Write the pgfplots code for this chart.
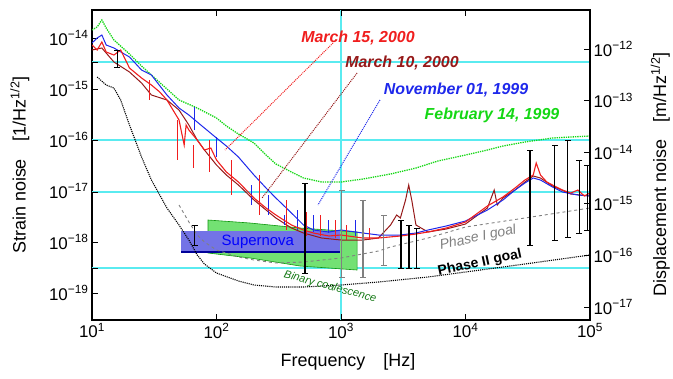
\documentclass[border=0pt]{standalone}
\usepackage{pgfplots}
\pgfplotsset{compat=1.18}
\usepackage{fontspec}
\setmainfont{Liberation Sans}
\definecolor{cRed}{RGB}{240,30,30}
\definecolor{cDark}{RGB}{150,25,25}
\definecolor{cBlue}{RGB}{30,40,235}
\definecolor{cGreen}{RGB}{20,215,20}
\definecolor{cCyan}{RGB}{90,235,240}
\definecolor{cSN}{RGB}{115,115,230}
\definecolor{cBin}{RGB}{115,225,115}
\definecolor{cDGreen}{RGB}{20,120,20}
\begin{document}
\begin{tikzpicture}
\path[use as bounding box] (0,0) rectangle (673bp,379bp);
\begin{axis}[
  at={(92bp,59bp)}, anchor=south west,
  scale only axis, width=498bp, height=310bp,
  xmode=log, ymode=log,
  xmin=10, xmax=1e5, ymin=2.955e-20, ymax=3.54e-14,
  xtick={10,100,1000,10000,100000},
  xticklabels={10\textsuperscript{1},10\textsuperscript{2},10\textsuperscript{3},10\textsuperscript{4},10\textsuperscript{5}},
  ytick={1e-19,1e-18,1e-17,1e-16,1e-15,1e-14},
  yticklabels={10\textsuperscript{−19},10\textsuperscript{−18},10\textsuperscript{−17},10\textsuperscript{−16},10\textsuperscript{−15},10\textsuperscript{−14}},
  ytick pos=left,
  xminorticks=false, yminorticks=false,
  tick align=inside,
  major tick length=6bp,
  axis line style={line width=1.2bp},
  every tick/.style={black, line width=1bp},
  tick label style={font=\fontsize{17}{19}\selectfont},
  xlabel={Frequency\quad[Hz]},
  ylabel={Strain noise\quad[1/Hz\textsuperscript{1/2}]},
  every axis x label/.style={at={(axis description cs:0.514,-0.135)}, anchor=center, font=\fontsize{18}{20}\selectfont},
  every axis y label/.style={at={(axis description cs:-0.145,0.5)}, rotate=90, anchor=center, font=\fontsize{18}{20}\selectfont},
  extra x ticks={1000}, extra x tick labels={},
  extra x tick style={grid=major, major grid style={cCyan, line width=1.2bp}},
  extra y ticks={3.384e-15,1e-16,9.56e-18,3.09e-19}, extra y tick labels={},
  extra y tick style={grid=major, major grid style={cCyan, line width=1.2bp}},
]
% binary coalescence region
\addplot[fill=cBin, draw=cGreen!70!black, line width=0.6bp] coordinates {(85.5,2.7e-18) (186,2.358e-18) (469,1.882e-18) (1346,1.571e-18) (1346,2.825e-19) (469,3.384e-19) (186,4.857e-19) (85.5,6.087e-19)} -- cycle;
% supernova box
\addplot[fill=cSN, draw=none] coordinates {(51.9,1.643e-18) (982,1.643e-18) (982,6.087e-19) (51.9,6.087e-19)} -- cycle;
\addplot[draw=blue!60!black, line width=1.5bp] coordinates {(51.9,6.3e-19) (982,6.3e-19)};
% Phase I goal (gray dashed)
\addplot[gray, dashed, line width=0.9bp] coordinates {(50,5.316e-18) (60,2.467e-18) (70,1.372e-18) (80,1e-18) (100,6.97e-19) (150,5.081e-19) (200,4.438e-19) (300,3.875e-19) (500,4.054e-19) (1000,4.857e-19) (2000,6.663e-19) (2500,7.982e-19) (5000,1.198e-18) (10000,1.968e-18) (30000,2.955e-18) (100000,4.642e-18)};
% Phase II goal (black dotted)
\addplot[black, densely dotted, line width=1.1bp] coordinates {(11,1.719e-15) (13,1.198e-15) (15,1.046e-15) (17,6.087e-16) (20,1.968e-16) (23,7.982e-17) (25,4.642e-17) (30,1.643e-17) (35,8.351e-18) (40,4.642e-18) (50,2.154e-18) (60,1.094e-18) (70,5.562e-19) (80,3.704e-19) (100,2.467e-19) (150,1.719e-19) (200,1.435e-19) (300,1.311e-19) (500,1.311e-19) (1000,1.435e-19) (2000,1.643e-19) (5000,2.06e-19) (10000,2.581e-19) (30000,3.704e-19) (100000,5.562e-19)};
% February 14, 1999
\addplot[cGreen, densely dotted, line width=1.3bp] coordinates {(10,1.435e-14) (11,1.643e-14) (12,2.254e-14) (13,1.571e-14) (15,9.14e-15) (20,4.857e-15) (25,2.825e-15) (30,1.882e-15) (40,1e-15) (50,6.087e-16) (70,4.242e-16) (100,2.7e-16) (120,1.882e-16) (150,1.311e-16) (200,8.737e-17) (250,5.081e-17) (300,3.384e-17) (400,2.358e-17) (500,1.798e-17) (700,1.501e-17) (1000,1.501e-17) (1500,1.719e-17) (2500,2.154e-17) (4000,2.825e-17) (6000,3.875e-17) (10000,5.081e-17) (15000,6.369e-17) (20000,7.629e-17) (30000,9.14e-17) (50000,1.094e-16) (70000,1.145e-16) (100000,1.198e-16)};
% March 10, 2000
\addplot[cDark, line width=1bp] coordinates {(10,5.818e-15) (12,6.369e-15) (15,3.384e-15) (20,2.154e-15) (25,1.311e-15) (30,7.629e-16) (40,6.087e-16) (50,3.875e-16) (60,1.968e-16) (70,1e-16) (80,6.369e-17) (100,3.235e-17) (120,2.06e-17) (150,1.311e-17) (200,6.663e-18) (250,4.242e-18) (300,2.955e-18) (400,1.882e-18) (500,1.501e-18) (700,1.198e-18) (1000,1.094e-18) (1500,1.094e-18) (2000,1.198e-18) (2500,2.154e-18) (2800,3.384e-18) (3000,2.955e-18) (3300,6.663e-18) (3500,1.311e-17) (3700,6.663e-18) (4000,2.154e-18) (5000,1.571e-18) (7000,1.798e-18) (10000,2.254e-18) (15000,4.642e-18) (17000,1.046e-17) (18000,5.316e-18) (20000,7.293e-18) (25000,1.046e-17) (30000,1.501e-17) (35000,1.968e-17) (40000,1.798e-17) (50000,1.253e-17) (70000,8.737e-18) (100000,7.982e-18)};
% November 01, 1999
\addplot[cBlue, line width=1bp] coordinates {(10,7.982e-15) (11,1e-14) (12,1.145e-14) (13,7.293e-15) (15,6.369e-15) (20,4.242e-15) (25,2.358e-15) (30,1.882e-15) (40,7.629e-16) (50,4.242e-16) (60,3.092e-16) (70,2.254e-16) (80,1.719e-16) (100,1.094e-16) (120,7.629e-17) (150,4.642e-17) (200,2.06e-17) (250,1.145e-17) (300,7.293e-18) (400,3.704e-18) (500,2.154e-18) (600,1.719e-18) (800,1.571e-18) (1000,1.719e-18) (1500,1.501e-18) (2000,1.372e-18) (3000,1.372e-18) (4000,1.501e-18) (5000,1.719e-18) (7000,2.06e-18) (10000,2.581e-18) (15000,4.242e-18) (20000,6.663e-18) (25000,1.046e-17) (30000,1.435e-17) (35000,1.798e-17) (40000,1.643e-17) (50000,1.198e-17) (60000,9.562e-18) (80000,8.351e-18) (100000,7.982e-18)};
\addplot[cBlue, line width=1bp, unbounded coords=jump] coordinates {(67,4.438e-16) (67,1.571e-16) (67,nan) (100,1.145e-16) (100,4.642e-17) (100,nan) (190,1.311e-17) (190,5.316e-18) (190,nan) (260,8.351e-18) (260,3.384e-18) (260,nan) (350,3.384e-18) (350,2.154e-18) (350,nan) (450,4.242e-18) (450,1.719e-18) (450,nan) (600,3.384e-18) (600,1.571e-18) (600,nan) (800,2.7e-18) (800,1.501e-18) (800,nan) (1300,2.7e-18) (1300,1.311e-18)};
% March 15, 2000
\addplot[cRed, line width=1.1bp] coordinates {(10,7.293e-15) (11,5.818e-15) (12,8.351e-15) (13,5.316e-15) (15,4.642e-15) (17,5.818e-15) (20,2.581e-15) (25,1.643e-15) (30,1.198e-15) (35,8.737e-16) (40,6.087e-16) (50,2.467e-16) (55,7.982e-17) (57,1.968e-16) (60,1.571e-16) (70,1e-16) (80,6.369e-17) (90,6.97e-17) (100,4.054e-17) (120,2.358e-17) (150,1.501e-17) (200,7.293e-18) (250,4.642e-18) (300,3.384e-18) (400,2.154e-18) (500,1.719e-18) (600,1.501e-18) (800,1.311e-18) (1000,1.372e-18) (1500,1.198e-18) (2000,1.198e-18) (3000,1.311e-18) (4000,1.435e-18) (5000,1.571e-18) (7000,1.882e-18) (10000,2.467e-18) (15000,5.081e-18) (20000,7.629e-18) (25000,1.145e-17) (30000,1.643e-17) (35000,2.06e-17) (37000,3.54e-17) (40000,2.06e-17) (45000,1.501e-17) (50000,1.311e-17) (60000,1.046e-17) (70000,9.14e-18) (80000,1.046e-17) (90000,7.982e-18) (100000,9.14e-18)};
\addplot[cRed, line width=1bp, unbounded coords=jump] coordinates {(29,1.501e-15) (29,6.087e-16) (29,nan) (49,2.467e-16) (49,4.054e-17) (49,nan) (65,7.982e-17) (65,2.825e-17) (65,nan) (88,1e-16) (88,2.358e-17) (88,nan) (133,4.054e-17) (133,8.351e-18) (133,nan) (223,2.06e-17) (223,3.384e-18) (223,nan) (367,6.663e-18) (367,1.719e-18) (367,nan) (530,3.875e-18) (530,1.311e-18) (530,nan) (680,3.384e-18) (680,1.311e-18) (680,nan) (900,2.7e-18) (900,1.198e-18) (900,nan) (1100,2.154e-18) (1100,1.094e-18) (1100,nan) (1700,1.882e-18) (1700,1.094e-18)};
% pointer lines
\addplot[cRed, densely dotted, line width=1bp] coordinates {(863,7.982e-15) (117,6.369e-17)};
\addplot[cDark, densely dotted, line width=1bp] coordinates {(1346,2.06e-15) (232,7.293e-18)};
\addplot[cBlue, densely dotted, line width=1bp] coordinates {(2056,6.087e-16) (653,5.316e-18)};
% error bars
\addplot[black, line width=1.3bp, mark=-, mark size=3bp, mark options={solid, line width=1bp}, unbounded coords=jump] coordinates {(16,5.818e-15) (16,2.7e-15) (16,nan) (67,2.154e-18) (67,8.737e-19) (67,nan) (513,1.435e-17) (513,2.467e-19) (513,nan) (3040,2.7e-18) (3040,3.092e-19) (3040,nan) (3520,2.154e-18) (3520,3.092e-19) (3520,nan) (4050,1.882e-18) (4050,3.092e-19) (4050,nan) (33000,6.369e-17) (33000,8.737e-19) (33000,nan) (52000,7.982e-17) (52000,1.094e-18) (52000,nan) (66000,1e-16) (66000,1.253e-18) (66000,nan) (82000,4.054e-17) (82000,1.501e-18) (82000,nan) (95000,3.235e-17) (95000,1.719e-18)};
\addplot[gray, line width=1.2bp, mark=-, mark size=3bp, mark options={solid, line width=1bp}, unbounded coords=jump] coordinates {(1014,1.046e-17) (1014,2.06e-19) (1014,nan) (1500,6.663e-18) (1500,2.06e-19) (1500,nan) (2200,3.384e-18) (2200,3.54e-19)};
% texts
\node[text=cRed, font=\fontsize{16}{18}\selectfont\bfseries\itshape] at (axis cs:1369,1e-14) {March 15, 2000};
\node[text=cDark, font=\fontsize{16}{18}\selectfont\bfseries\itshape] at (axis cs:3090,3.235e-15) {March 10, 2000};
\node[text=cBlue, font=\fontsize{16}{18}\selectfont\bfseries\itshape] at (axis cs:8390,9.562e-16) {November 01, 1999};
\node[text=cGreen, font=\fontsize{16}{18}\selectfont\bfseries\itshape] at (axis cs:16330,3.092e-16) {February 14, 1999};
\node[text=blue, inner sep=0pt, font=\fontsize{15}{17}\selectfont] at (axis cs:215,1e-18) {Supernova};
\node[text=gray, rotate=12, font=\fontsize{14}{16}\selectfont\itshape] at (axis cs:12600,1.198e-18) {Phase I goal};
\node[text=black, rotate=12, font=\fontsize{14}{16}\selectfont\bfseries] at (axis cs:13060,3.875e-19) {Phase II goal};
\node[text=cDGreen, inner sep=0pt, rotate=-15, font=\fontsize{11}{13}\selectfont\itshape] at (axis cs:817,1.311e-19) {Binary coalescence};
\end{axis}
\begin{axis}[
  at={(92bp,59bp)}, anchor=south west,
  scale only axis, width=498bp, height=310bp,
  xmode=log, ymode=log,
  xmin=10, xmax=1e5, ymin=5.60e-18, ymax=5.70e-12,
  axis x line=none, axis y line*=right,
  ytick={1e-17,1e-16,1e-15,1e-14,1e-13,1e-12},
  yticklabels={10\textsuperscript{−17},10\textsuperscript{−16},10\textsuperscript{−15},10\textsuperscript{−14},10\textsuperscript{−13},10\textsuperscript{−12}},
  yminorticks=false,
  tick align=inside,
  major tick length=6bp,
  axis line style={line width=1.2bp},
  every tick/.style={black, line width=1bp},
  tick label style={font=\fontsize{17}{19}\selectfont},
  ylabel={Displacement noise\quad[m/Hz\textsuperscript{1/2}]},
  every axis y label/.style={at={(axis description cs:1.141,0.47)}, rotate=90, anchor=center, font=\fontsize{18}{20}\selectfont},
]
\addplot[draw=none] coordinates {(100,1e-15)};
\end{axis}
\end{tikzpicture}
\end{document}
